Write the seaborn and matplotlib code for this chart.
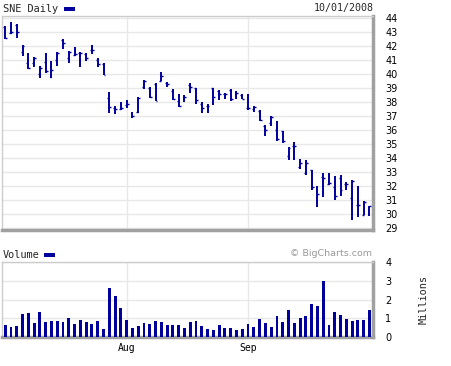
import numpy as np
import pandas as pd
import matplotlib
matplotlib.use("Agg")
import matplotlib.pyplot as plt
from matplotlib.patches import Rectangle
import seaborn as sns

# ---- data ----
dates = [d.strftime("%Y-%m-%d") for d in pd.bdate_range("2008-07-02", "2008-10-01")
         if d.strftime("%Y-%m-%d") not in ("2008-07-04", "2008-09-01")]

open_ = [43.38, 42.93, 43.50, 41.57, 40.79, 40.79, 40.00, 40.90, 39.78, 41.02,
         42.45, 41.19, 41.36, 41.48, 41.45, 41.76, 41.00, 40.76, 38.30, 37.62,
         37.50, 37.83, 37.00, 37.29, 39.05, 38.98, 39.33, 39.48, 39.36, 38.83,
         38.07, 38.38, 39.24, 38.98, 37.90, 37.70, 38.98, 38.83, 38.55, 38.90,
         38.64, 38.50, 37.55, 37.50, 37.40, 36.33, 36.50, 36.02, 35.93, 34.17,
         34.90, 33.40, 32.95, 33.12, 31.40, 32.64, 32.14, 31.95, 32.60, 32.17,
         31.14, 30.64, 29.93, 30.29]
high = [43.45, 43.71, 43.57, 42.10, 41.50, 41.26, 40.62, 41.50, 40.95, 41.57,
        42.50, 41.67, 41.93, 41.57, 41.55, 42.10, 41.14, 40.79, 38.74, 37.71,
        38.00, 38.19, 37.31, 38.38, 39.57, 39.05, 39.38, 40.19, 39.45, 38.95,
        38.55, 38.52, 39.40, 39.02, 37.98, 37.86, 39.02, 38.88, 38.67, 38.95,
        38.81, 38.55, 38.55, 37.76, 37.45, 36.38, 37.02, 36.67, 35.95, 34.83,
        35.12, 33.93, 33.88, 33.17, 31.98, 32.93, 32.93, 32.69, 32.81, 32.33,
        32.45, 32.02, 30.93, 30.60]
low = [42.52, 42.90, 42.62, 41.29, 40.36, 40.55, 39.76, 40.07, 39.71, 40.62,
       41.79, 40.83, 41.33, 40.55, 40.95, 41.43, 40.48, 39.93, 37.24, 37.17,
       37.43, 37.57, 36.88, 37.24, 38.95, 38.31, 38.07, 39.48, 39.10, 38.19,
       37.69, 38.02, 38.69, 37.86, 37.26, 37.26, 37.83, 38.19, 38.26, 38.07,
       38.21, 38.21, 37.43, 37.33, 36.64, 35.55, 36.33, 35.26, 35.07, 33.88,
       33.88, 33.26, 32.76, 31.74, 30.48, 31.19, 32.05, 31.02, 31.33, 31.74,
       29.60, 29.76, 29.93, 29.90]
close = [42.62, 43.00, 43.00, 42.02, 40.43, 41.19, 40.43, 40.26, 40.31, 41.55,
         42.24, 41.60, 41.43, 41.48, 41.14, 41.76, 40.76, 39.93, 37.69, 37.52,
         37.62, 37.90, 37.00, 38.33, 39.52, 38.40, 38.12, 39.90, 39.29, 38.24,
         37.74, 38.38, 39.05, 38.17, 37.55, 37.70, 38.36, 38.55, 38.55, 38.26,
         38.64, 38.24, 37.57, 37.67, 36.71, 36.02, 36.93, 35.36, 35.26, 34.76,
         34.90, 33.64, 33.64, 31.95, 31.45, 32.60, 32.20, 31.31, 31.70, 32.17,
         32.35, 30.64, 30.83, 30.55]
volume = [0.64, 0.54, 0.59, 1.23, 1.29, 0.75, 1.34, 0.80, 0.86, 0.86,
          0.80, 1.02, 0.70, 0.91, 0.80, 0.70, 0.86, 0.43, 2.63, 2.20,
          1.55, 0.91, 0.48, 0.59, 0.75, 0.70, 0.86, 0.80, 0.64, 0.64,
          0.64, 0.48, 0.80, 0.86, 0.59, 0.43, 0.38, 0.64, 0.48, 0.48,
          0.38, 0.43, 0.70, 0.54, 0.96, 0.75, 0.54, 1.13, 0.80, 1.45,
          0.75, 1.02, 1.13, 1.77, 1.66, 3.00, 0.64, 1.34, 1.18, 0.96,
          0.86, 0.91, 0.91, 1.45]
price_ticks = list(range(29, 45))
vol_ticks = [0, 1, 2, 3, 4]
month_labels = ["Aug", "Sep"]
title = "SNE Daily"
date_label = "10/01/2008"

# ---- style ----
sns.set_style("white")
plt.rcParams['font.family'] = ['DejaVu Sans']
BLUE = "#00009c"
GRID = "#e8e8e8"
W, H = 452, 366

df = pd.DataFrame({"date": dates, "open": open_, "high": high, "low": low,
                   "close": close, "volume": volume})
idx = np.arange(len(df))

fig = plt.figure(figsize=(W / 100, H / 100), dpi=100)
ax1 = fig.add_axes([2.5 / W, 1 - 229.5 / H, 370.2 / W, 213.5 / H])
ax2 = fig.add_axes([2.5 / W, 1 - 337.0 / H, 370.2 / W, 75.0 / H])

# positions of first trading day of each labelled month
mpos = [dates.index(next(d for d in dates if pd.Timestamp(d).strftime("%b") == m))
        for m in month_labels]

# ---- price OHLC ----
ax1.vlines(idx, df["low"], df["high"], color=BLUE, lw=1.4, zorder=3)
ax1.hlines(df["open"], idx - 0.33, idx, color=BLUE, lw=1.0, zorder=3)
ax1.hlines(df["close"], idx, idx + 0.33, color=BLUE, lw=1.0, zorder=3)
ax1.set_xlim(-0.47, 63.56)
ax1.set_ylim(28.9, 44.16)
ax1.set_yticks(price_ticks)
ax1.yaxis.tick_right()
ax1.set_xticks(mpos)
ax1.set_xticklabels([])

# ---- volume ----
sns.barplot(data=df, x="date", y="volume", color=BLUE, saturation=1,
            width=0.5, linewidth=0, ax=ax2, zorder=3)
ax2.set_xlim(-0.47, 63.56)
ax2.set_ylim(0, 4)
ax2.set_yticks(vol_ticks)
ax2.yaxis.tick_right()
ax2.set_xticks(mpos)
ax2.set_xticklabels(month_labels, family="DejaVu Sans Mono", fontsize=7.2)
ax2.set_xlabel("")
ax2.set_ylabel("")

for ax in (ax1, ax2):
    ax.set_axisbelow(True)
    ax.grid(True, color=GRID, lw=1)
    ax.tick_params(axis="both", length=0, labelsize=7, colors="black")
    ax.tick_params(axis="y", pad=9)
    ax.tick_params(axis="x", pad=4.5)
    for s in ("top", "left"):
        ax.spines[s].set_color("#cccccc")
        ax.spines[s].set_linewidth(1)
    for s in ("right", "bottom"):
        ax.spines[s].set_color("#a0a0a0")
        ax.spines[s].set_linewidth(2.5)
    ax.patch.set_facecolor("white")

# ---- texts ----
mono = "DejaVu Sans Mono"
fig.text(3 / W, 1 - 8.5 / H, title, family=mono, fontsize=7.4, va="center", ha="left")
fig.add_artist(Rectangle((64 / W, 1 - 10.5 / H), 11 / W, 3.5 / H,
                         transform=fig.transFigure, color=BLUE, lw=0))
fig.text(374 / W, 1 - 8.5 / H, date_label, family=mono, fontsize=7.2, va="center", ha="right")
fig.text(3 / W, 1 - 255 / H, "Volume", family=mono, fontsize=7.4, va="center", ha="left")
fig.add_artist(Rectangle((44 / W, 1 - 256.5 / H), 11 / W, 3.5 / H,
                         transform=fig.transFigure, color=BLUE, lw=0))
fig.text(372 / W, 1 - 253 / H, "\u00a9 BigCharts.com", fontsize=6.8, color="#999999",
         va="center", ha="right")
fig.text(424 / W, 1 - 300 / H, "Millions", family=mono, fontsize=7.4, rotation=90,
         va="center", ha="center")

fig.savefig("out.png", dpi=100)
